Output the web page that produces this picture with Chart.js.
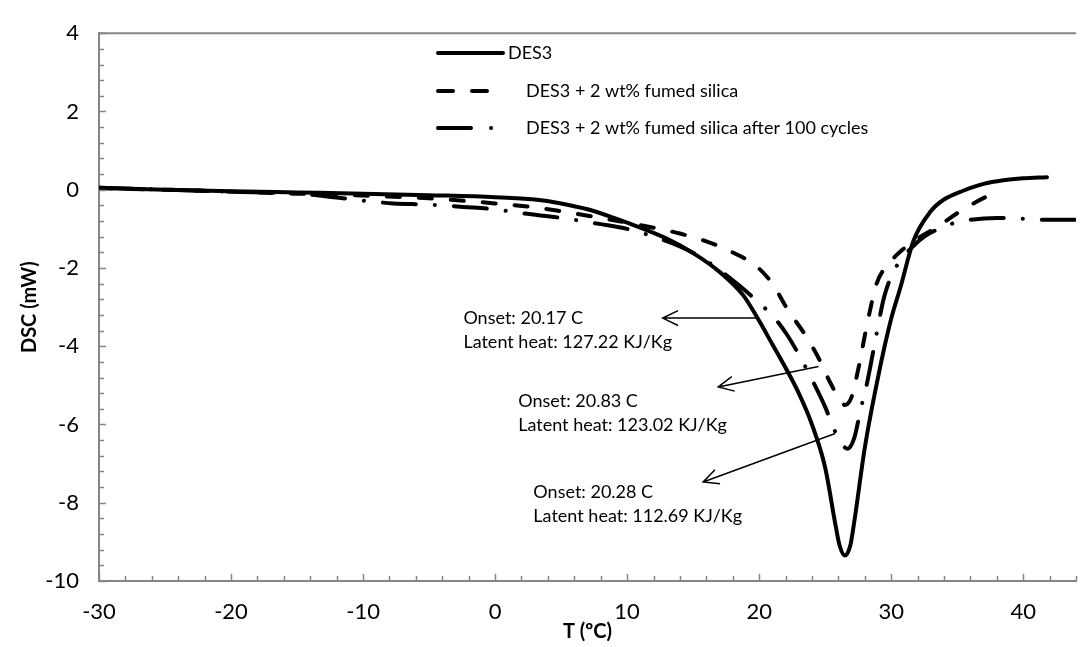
<!DOCTYPE html>
<html>
<head>
<meta charset="utf-8">
<script src="https://cdn.jsdelivr.net/npm/chart.js@4.4.1/dist/chart.umd.min.js"></script>
<style>
  html, body { margin: 0; padding: 0; background: #fff; }
  #wrap { width: 1081px; height: 647px; }
</style>
</head>
<body>
<div id="wrap"><canvas id="dscChart"></canvas></div>
<script>
// ---- data ----
const seriesNames = ["DES3", "DES3 + 2 wt% fumed silica", "DES3 + 2 wt% fumed silica after 100 cycles"];

const desT = [-30, -25, -20, -15, -10, -5, 0, 3, 5, 7, 9, 11, 13, 15, 17, 18.8, 20, 21, 22, 23, 24, 25, 25.8, 26.1, 26.5, 26.9, 27.2, 28, 29, 30, 30.7, 31.7, 33, 34, 35.5, 37, 38.5, 40, 41.8];
const desY = [0.05, 0.0, -0.04, -0.07, -0.1, -0.14, -0.19, -0.25, -0.35, -0.5, -0.72, -0.97, -1.25, -1.62, -2.1, -2.7, -3.35, -3.95, -4.55, -5.2, -6.0, -7.1, -8.6, -9.1, -9.35, -9.1, -8.5, -6.6, -4.8, -3.3, -2.5, -1.3, -0.55, -0.25, -0.02, 0.15, 0.24, 0.29, 0.32];

const silT = [-30, -25, -20, -15, -10, -5, 0, 3, 5, 8, 10, 12, 14, 16, 17.6, 19.8, 21, 22.1, 23.6, 24.5, 25.4, 26, 26.5, 27, 27.5, 28.2, 28.9, 29.8, 30.8, 32, 33.5, 35, 36.5, 37.8];
const silY = [0.04, 0.0, -0.05, -0.1, -0.15, -0.22, -0.35, -0.45, -0.55, -0.72, -0.84, -0.97, -1.12, -1.32, -1.54, -1.96, -2.4, -3.03, -3.77, -4.3, -4.94, -5.3, -5.5, -5.3, -4.6, -3.4, -2.4, -1.9, -1.55, -1.25, -0.95, -0.6, -0.3, -0.08];

const cycT = [-30, -25, -20, -15, -12, -10, -7.7, -5, -2.4, 0, 2, 5, 8, 10, 12, 14, 15.5, 17, 18.5, 19.85, 21.1, 22.1, 23.1, 24, 25, 25.5, 26, 26.7, 27.2, 27.7, 28.2, 28.8, 29.5, 30.5, 31.5, 32.5, 33.6, 34.6, 36, 38, 40, 42, 44];
const cycY = [0.05, 0.0, -0.05, -0.1, -0.2, -0.28, -0.35, -0.38, -0.44, -0.5, -0.6, -0.72, -0.88, -1.0, -1.2, -1.45, -1.71, -2.05, -2.45, -2.85, -3.25, -3.7, -4.27, -4.85, -5.55, -5.98, -6.35, -6.62, -6.35, -5.6, -4.9, -3.85, -2.7, -1.9, -1.5, -1.2, -1.0, -0.87, -0.77, -0.72, -0.74, -0.77, -0.77];

const xTicks = [-30, -20, -10, 0, 10, 20, 30, 40];
const yTicks = [4, 2, 0, -2, -4, -6, -8, -10];

// onset / latent heat notes: text anchor and arrow (data coords)
const noteText = [
    ["Onset: 20.17 C", "Latent heat: 127.22 KJ/Kg"],
    ["Onset: 20.83 C", "Latent heat: 123.02 KJ/Kg"],
    ["Onset: 20.28 C", "Latent heat: 112.69 KJ/Kg"]
];
const noteAt = [[-2.4, -3.28], [1.75, -5.41], [2.9, -7.74]];
const arrowFrom = [[19.85, -3.28], [24.5, -4.52], [25.76, -6.23]];
const arrowTo = [[12.7, -3.28], [16.9, -5.04], [15.76, -7.47]];

const axisColor = "#868686";
const lineDashes = [[], [13, 19], [33, 19, 0.1, 19]];

function pts(xs, ys) {
    return xs.map((v, i) => ({ x: v, y: ys[i] }));
}

// ---- inside ticks + top frame line ----
const frameTicks = {
    id: "frameTicks",
    afterDraw(chart) {
        const { ctx, chartArea: a, scales: { x, y } } = chart;
        ctx.save();
        ctx.strokeStyle = axisColor;
        ctx.lineWidth = 1.5;
        ctx.beginPath();
        // x ticks (minor every 2, major every 10)
        for (let v = -30; v <= 44.001; v += 2) {
            const px = Math.round(x.getPixelForValue(v)) + 0.5;
            const len = (Math.abs(v % 10) < 0.001) ? 7 : 5;
            ctx.moveTo(px, a.bottom);
            ctx.lineTo(px, a.bottom - len);
        }
        // y ticks (minor every 0.4, major every 2)
        for (let k = 0; k <= 35; k++) {
            const v = -10 + k * 0.4;
            const py = Math.round(y.getPixelForValue(v)) + 0.5;
            const len = (k % 5 === 0) ? 7 : 5;
            ctx.moveTo(a.left, py);
            ctx.lineTo(a.left + len, py);
        }
        ctx.stroke();
        // top line
        ctx.lineWidth = 2;
        ctx.beginPath();
        ctx.moveTo(a.left, a.top);
        ctx.lineTo(a.right, a.top);
        ctx.stroke();
        ctx.restore();
    }
};

// ---- legend drawn at its place in the plot ----
const insideLegend = {
    id: "insideLegend",
    afterDraw(chart) {
        const ctx = chart.ctx;
        const rows = [
            { y: 53, x0: 438, x1: 503, tx: 508 },
            { y: 91, x0: 438, x1: 492, tx: 526 },
            { y: 128, x0: 438, x1: 498, tx: 526 }
        ];
        const dashes = [[], [15, 19], [33, 20, 0.1, 20]];
        ctx.save();
        ctx.font = "18px Lato";
        ctx.fillStyle = "#000";
        ctx.textBaseline = "middle";
        rows.forEach((r, i) => {
            ctx.strokeStyle = "#000";
            ctx.lineWidth = 4;
            ctx.lineCap = "round";
            ctx.setLineDash(dashes[i]);
            ctx.beginPath();
            ctx.moveTo(r.x0, r.y);
            ctx.lineTo(r.x1, r.y);
            ctx.stroke();
            ctx.setLineDash([]);
            ctx.fillText(seriesNames[i], r.tx, r.y);
        });
        ctx.restore();
    }
};

// ---- onset notes with arrows ----
const notes = {
    id: "notes",
    afterDraw(chart) {
        const { ctx, scales: { x, y } } = chart;
        ctx.save();
        ctx.font = "18px Lato";
        ctx.fillStyle = "#000";
        ctx.textBaseline = "middle";
        noteText.forEach((lines, i) => {
            const tx = x.getPixelForValue(noteAt[i][0]);
            const ty = y.getPixelForValue(noteAt[i][1]);
            lines.forEach((t, j) => ctx.fillText(t, tx, ty + j * 24));

            const x1 = x.getPixelForValue(arrowFrom[i][0]);
            const y1 = y.getPixelForValue(arrowFrom[i][1]);
            const x2 = x.getPixelForValue(arrowTo[i][0]);
            const y2 = y.getPixelForValue(arrowTo[i][1]);
            const ang = Math.atan2(y2 - y1, x2 - x1);
            ctx.strokeStyle = "#000";
            ctx.lineWidth = 1.5;
            ctx.beginPath();
            ctx.moveTo(x1, y1);
            ctx.lineTo(x2, y2);
            ctx.moveTo(x2 - 17 * Math.cos(ang - 0.45), y2 - 17 * Math.sin(ang - 0.45));
            ctx.lineTo(x2, y2);
            ctx.lineTo(x2 - 17 * Math.cos(ang + 0.45), y2 - 17 * Math.sin(ang + 0.45));
            ctx.stroke();
        });
        ctx.restore();
    }
};

const ctx = document.getElementById("dscChart").getContext("2d");
new Chart(ctx, {
    type: "line",
    data: {
        datasets: [
            { label: seriesNames[0], data: pts(desT, desY), borderDash: lineDashes[0] },
            { label: seriesNames[1], data: pts(silT, silY), borderDash: lineDashes[1] },
            { label: seriesNames[2], data: pts(cycT, cycY), borderDash: lineDashes[2] }
        ].map(d => Object.assign(d, {
            borderColor: "#000",
            borderWidth: 4,
            borderCapStyle: "round",
            pointRadius: 0,
            fill: false,
            cubicInterpolationMode: "monotone"
        }))
    },
    options: {
        responsive: true,
        maintainAspectRatio: false,
        animation: false,
        layout: { padding: { top: 17, right: 5, bottom: 0, left: 0 } },
        plugins: {
            legend: { display: false },
            tooltip: { enabled: false }
        },
        scales: {
            x: {
                type: "linear",
                min: -30,
                max: 44,
                afterBuildTicks: s => { s.ticks = xTicks.map(v => ({ value: v })); },
                afterFit: s => { s.height = 66; },
                grid: { display: false, drawTicks: false },
                border: { display: true, color: axisColor, width: 2 },
                ticks: { color: "#000", font: { family: "Lato", size: 22 }, padding: 18, maxRotation: 0 },
                title: {
                    display: true,
                    text: "T (ºC)",
                    color: "#000",
                    font: { family: "Lato", size: 20, weight: "bold" },
                    padding: { top: 0, bottom: 3 }
                }
            },
            y: {
                type: "linear",
                min: -10,
                max: 4,
                afterBuildTicks: s => { s.ticks = yTicks.map(v => ({ value: v })); },
                afterFit: s => { s.width = 99; },
                grid: { display: false, drawTicks: false },
                border: { display: true, color: axisColor, width: 2 },
                ticks: { color: "#000", font: { family: "Lato", size: 22 }, padding: 20 },
                title: {
                    display: true,
                    text: "DSC (mW)",
                    color: "#000",
                    font: { family: "Lato", size: 20, weight: "bold" },
                    padding: { top: 18, bottom: 0 }
                }
            }
        }
    },
    plugins: [frameTicks, insideLegend, notes]
});
</script>
</body>
</html>
